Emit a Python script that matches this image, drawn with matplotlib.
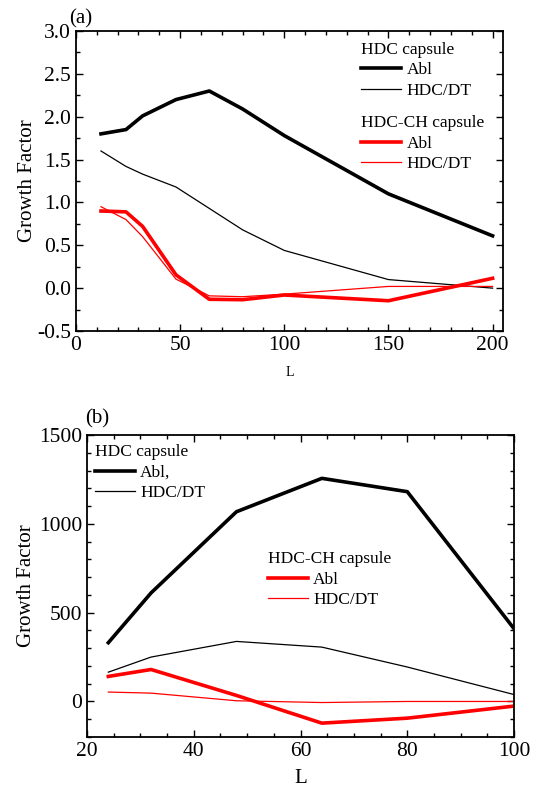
import matplotlib
matplotlib.use("Agg")
import matplotlib.pyplot as plt
from matplotlib.lines import Line2D
from matplotlib.ticker import MultipleLocator

plt.rcParams["font.family"] = ["Liberation Serif", "DejaVu Serif"]

# panel (a)
L_a = [12, 24, 32, 48, 64, 80, 100, 150, 200]
hdc_abl_a = [1.80, 1.85, 2.01, 2.20, 2.30, 2.09, 1.78, 1.10, 0.61]
hdc_dt_a = [1.60, 1.42, 1.33, 1.18, 0.93, 0.68, 0.44, 0.10, 0.00]
ch_abl_a = [0.90, 0.89, 0.72, 0.155, -0.13, -0.135, -0.08, -0.147, 0.115]
ch_dt_a = [0.95, 0.80, 0.60, 0.105, -0.09, -0.10, -0.07, 0.02, 0.02]

# panel (b)
L_b = [24, 32, 48, 64, 80, 100]
hdc_abl_b = [331, 611, 1068, 1256, 1181, 410]
hdc_dt_b = [165, 250, 338, 306, 194, 39]
ch_abl_b = [141, 180, 34, -122, -94, -26]
ch_dt_b = [53, 47, 4, -6, 0, 0]

THICK = 2.6
THIN = 0.9
LEG_KW = dict(alignment="left", loc="upper left", frameon=False,
              fontsize=12.5, title_fontsize=12.5, handlelength=2.3,
              handletextpad=0.3, labelspacing=0.25, borderaxespad=0.3)

fig = plt.figure(figsize=(5.42, 7.90), dpi=100)
ax1 = fig.add_axes([76 / 542, 1 - 331 / 790, 427 / 542, 300 / 790])
ax2 = fig.add_axes([87 / 542, 1 - 737 / 790, 427 / 542, 302 / 790])


def style(ax):
    ax.tick_params(which="both", direction="in", top=True, right=True,
                   labelsize=15.5, width=1.0)
    ax.tick_params(which="major", length=5)
    ax.tick_params(which="minor", length=3)
    for s in ax.spines.values():
        s.set_linewidth(1.3)


def pair(color):
    return [Line2D([], [], color=color, lw=THICK),
            Line2D([], [], color=color, lw=THIN)]


# ---- (a)
ax1.plot(L_a, hdc_abl_a, color="black", lw=THICK)
ax1.plot(L_a, hdc_dt_a, color="black", lw=THIN)
ax1.plot(L_a, ch_abl_a, color="red", lw=THICK)
ax1.plot(L_a, ch_dt_a, color="red", lw=THIN)
ax1.set_xlim(0, 205)
ax1.set_ylim(-0.5, 3.0)
ax1.xaxis.set_major_locator(MultipleLocator(50))
ax1.xaxis.set_minor_locator(MultipleLocator(10))
ax1.yaxis.set_major_locator(MultipleLocator(0.5))
ax1.yaxis.set_minor_locator(MultipleLocator(0.25))
ax1.yaxis.set_major_formatter(lambda v, p: f"{v:.1f}")
style(ax1)
ax1.set_ylabel("Growth Factor", fontsize=15, labelpad=0)
ax1.set_xlabel("L", fontsize=10, labelpad=8)
ax1.text(-0.015, 1.01, "(a)", transform=ax1.transAxes, fontsize=15,
         ha="left", va="bottom")

leg_a1 = ax1.legend(pair("black"), ["Abl", "HDC/DT"], title="HDC capsule",
                    bbox_to_anchor=(0.64, 1.005), **LEG_KW)
ax1.add_artist(leg_a1)
ax1.legend(pair("red"), ["Abl", "HDC/DT"], title="HDC-CH capsule",
           bbox_to_anchor=(0.64, 0.76), **LEG_KW)

# ---- (b)
ax2.plot(L_b, hdc_abl_b, color="black", lw=THICK)
ax2.plot(L_b, hdc_dt_b, color="black", lw=THIN)
ax2.plot(L_b, ch_abl_b, color="red", lw=THICK)
ax2.plot(L_b, ch_dt_b, color="red", lw=THIN)
ax2.set_xlim(20, 100)
ax2.set_ylim(-200, 1500)
ax2.xaxis.set_major_locator(MultipleLocator(20))
ax2.xaxis.set_minor_locator(MultipleLocator(5))
ax2.yaxis.set_major_locator(MultipleLocator(500))
ax2.yaxis.set_minor_locator(MultipleLocator(100))
style(ax2)
ax2.set_ylabel("Growth Factor", fontsize=15, labelpad=2)
ax2.set_xlabel("L", fontsize=15, labelpad=6)
ax2.text(-0.005, 1.02, "(b)", transform=ax2.transAxes, fontsize=15,
         ha="left", va="bottom")

leg_b1 = ax2.legend(pair("black"), ["Abl,", "HDC/DT"], title="HDC capsule",
                    bbox_to_anchor=(-0.01, 1.01), **LEG_KW)
ax2.add_artist(leg_b1)
ax2.legend(pair("red"), ["Abl", "HDC/DT"], title="HDC-CH capsule",
           bbox_to_anchor=(0.395, 0.655), **LEG_KW)

fig.savefig("out.png", dpi=100)
